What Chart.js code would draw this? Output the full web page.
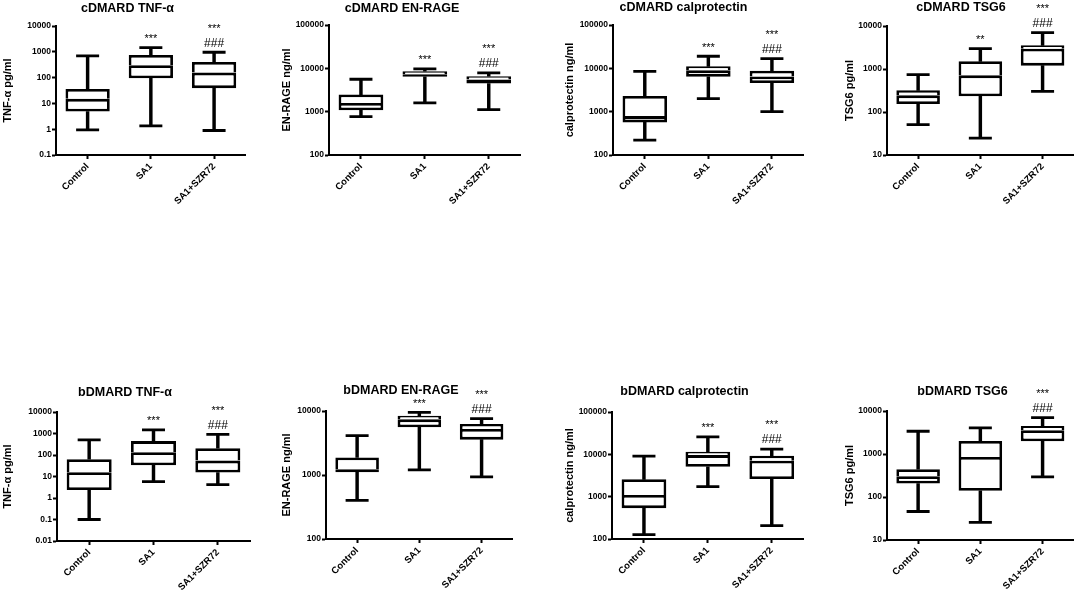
<!DOCTYPE html>
<html>
<head>
<meta charset="utf-8">
<script src="https://cdn.jsdelivr.net/npm/chart.js@4.4.1/dist/chart.umd.min.js"></script>
<style>
html, body { margin: 0; padding: 0; background: #fff; width: 1084px; height: 592px; overflow: hidden; }
canvas { position: absolute; }
</style>
</head>
<body>
<script>
const groups = ["Control", "SA1", "SA1+SZR72"]

// cDMARD TNF-alpha (pg/ml)
const cTnfTicks = [0.1, 1, 10, 100, 1000, 10000]
const cTnfMin = [0.94, 1.35, 0.89]
const cTnfQ1 = [4.8, 94, 39]
const cTnfMed = [15, 300, 156]
const cTnfQ3 = [36, 750, 400]
const cTnfMax = [690, 1450, 960]
const cTnfStars = ["", "***", "***"]
const cTnfHash = ["", "", "###"]

// cDMARD EN-RAGE (ng/ml)
const cRageTicks = [100, 1000, 10000, 100000]
const cRageMin = [765, 1590, 1110]
const cRageQ1 = [1075, 6360, 4450]
const cRageMed = [1590, 7330, 5510]
const cRageQ3 = [2480, 8600, 6590]
const cRageMax = [5600, 9700, 7870]
const cRageStars = ["", "***", "***"]
const cRageHash = ["", "", "###"]

// cDMARD calprotectin (ng/ml)
const cCalTicks = [100, 1000, 10000, 100000]
const cCalMin = [220, 2000, 1000]
const cCalQ1 = [565, 6400, 4560]
const cCalMed = [790, 8980, 6520]
const cCalQ3 = [2310, 11100, 8830]
const cCalMax = [8500, 19000, 16800]
const cCalStars = ["", "***", "***"]
const cCalHash = ["", "", "###"]

// cDMARD TSG6 (pg/ml)
const cTsgTicks = [10, 100, 1000, 10000]
const cTsgMin = [51, 24.8, 303]
const cTsgQ1 = [153, 231, 1195]
const cTsgMed = [244, 712, 2970]
const cTsgQ3 = [319, 1510, 3550]
const cTsgMax = [738, 2970, 7000]
const cTsgStars = ["", "**", "***"]
const cTsgHash = ["", "", "###"]

// bDMARD TNF-alpha (pg/ml)
const bTnfTicks = [0.01, 0.1, 1, 10, 100, 1000, 10000]
const bTnfMin = [0.1, 5.75, 4.17]
const bTnfQ1 = [2.35, 33, 15.2]
const bTnfMed = [15.7, 135, 55]
const bTnfQ3 = [64, 442, 208]
const bTnfMax = [510, 1490, 904]
const bTnfStars = ["", "***", "***"]
const bTnfHash = ["", "", "###"]

// bDMARD EN-RAGE (ng/ml)
const bRageTicks = [100, 1000, 10000]
const bRageMin = [401, 1204, 936]
const bRageQ1 = [1107, 5560, 3570]
const bRageMed = [1233, 7410, 5240]
const bRageQ3 = [1875, 8460, 6270]
const bRageMax = [4130, 9530, 7600]
const bRageStars = ["", "***", "***"]
const bRageHash = ["", "", "###"]

// bDMARD calprotectin (ng/ml)
const bCalTicks = [100, 1000, 10000, 100000]
const bCalMin = [127, 1730, 206]
const bCalQ1 = [535, 5100, 2620]
const bCalMed = [1100, 9600, 7060]
const bCalQ3 = [2570, 11500, 9250]
const bCalMax = [9080, 25900, 13300]
const bCalStars = ["", "***", "***"]
const bCalHash = ["", "", "###"]

// bDMARD TSG6 (pg/ml)
const bTsgTicks = [10, 100, 1000, 10000]
const bTsgMin = [46, 25.6, 294]
const bTsgQ1 = [206, 139, 1980]
const bTsgMed = [305, 857, 3560]
const bTsgQ3 = [443, 2010, 4490]
const bTsgMax = [3380, 4030, 7000]
const bTsgStars = ["", "", "***"]
const bTsgHash = ["", "", "###"]

const FONT = "'Liberation Sans', Arial, sans-serif"
const TITLE_SIZE = 12.5
const LINE_W = 2.8

// draws the *** / ### marks above the upper whisker of each group
const sigPlugin = {
    id: "sig",
    afterDatasetsDraw(chart, args, opts){
        const {ctx} = chart
        const x = chart.scales.x
        const y = chart.scales.y
        ctx.save()
        ctx.fillStyle = "#000"
        ctx.textAlign = "center"
        ctx.textBaseline = "alphabetic"
        for(let i = 0; i < opts.maxs.length; i++){
            const px = x.getPixelForValue(i)
            let top = y.getPixelForValue(opts.maxs[i])
            let gap = 12
            if(opts.hashes[i]){
                top -= 10
                ctx.font = `12px ${FONT}`
                ctx.fillText(opts.hashes[i], px, top + 12 * 0.36)
                gap = 17
            }
            if(opts.stars[i]){
                ctx.font = `11px ${FONT}`
                ctx.fillText(opts.stars[i], px, top - gap + 11 * 0.58)
            }
        }
        ctx.restore()
    }
}

function makePanel(box, title, yLabel, ticks, mins, q1, med, q3, maxs, stars, hashes){
    const canvas = document.createElement("canvas")
    canvas.width = box.w
    canvas.height = box.h
    canvas.style.left = box.x + "px"
    canvas.style.top = box.y + "px"
    document.body.appendChild(canvas)

    const titleLine = TITLE_SIZE * 1.2
    const padTop = box.titleY - box.y - titleLine / 2
    const padBottom = box.T - box.y - padTop - titleLine

    const capStyle = {
        type: "line",
        showLine: false,
        pointStyle: "line",
        pointRadius: 11.5,
        pointBorderWidth: LINE_W,
        pointBorderColor: "#000",
        pointBackgroundColor: "#000"
    }
    const stemStyle = {
        type: "bar",
        grouped: false,
        barThickness: LINE_W,
        backgroundColor: "#000",
        borderWidth: 0
    }
    const boxStyle = {
        type: "bar",
        grouped: false,
        categoryPercentage: 1,
        barPercentage: 0.7,
        backgroundColor: "#fff",
        borderColor: "#000",
        borderWidth: LINE_W
    }

    new Chart(canvas, {
        type: "bar",
        data: {
            labels: groups,
            datasets: [
                {...boxStyle, data: groups.map((g, i) => [q1[i], med[i]]), borderSkipped: false},
                {...boxStyle, data: groups.map((g, i) => [med[i], q3[i]]), borderSkipped: "bottom"},
                {...stemStyle, data: groups.map((g, i) => [mins[i], q1[i]])},
                {...stemStyle, data: groups.map((g, i) => [q3[i], maxs[i]])},
                {...capStyle, data: maxs},
                {...capStyle, data: mins}
            ]
        },
        options: {
            responsive: false,
            animation: false,
            events: [],
            layout: {padding: {left: 0, top: 0, right: box.x + box.w - box.R, bottom: 0}},
            plugins: {
                legend: {display: false},
                tooltip: {enabled: false},
                title: {
                    display: true,
                    text: title,
                    color: "#000",
                    font: {family: FONT, size: TITLE_SIZE, weight: "bold"},
                    padding: {top: padTop, bottom: padBottom}
                },
                sig: {maxs: maxs, stars: stars, hashes: hashes}
            },
            scales: {
                x: {
                    type: "category",
                    offset: true,
                    grid: {display: true, drawOnChartArea: false, offset: false, tickLength: 4, tickWidth: 2, tickColor: "#000"},
                    border: {display: true, color: "#000", width: 2},
                    ticks: {color: "#000", font: {family: FONT, size: 9.5, weight: "bold"}, minRotation: 45, maxRotation: 45, autoSkip: false, padding: 2},
                    afterFit(s){ s.height = box.y + box.h - box.B }
                },
                y: {
                    type: "logarithmic",
                    min: ticks[0],
                    max: ticks[ticks.length - 1],
                    afterBuildTicks(s){ s.ticks = ticks.map(v => ({value: v})) },
                    grid: {display: true, drawOnChartArea: false, tickLength: 4, tickWidth: 2, tickColor: "#000"},
                    border: {display: true, color: "#000", width: 2},
                    ticks: {color: "#000", font: {family: FONT, size: 8.5, weight: "bold"}, padding: 1, autoSkip: false, callback: v => String(v)},
                    title: {display: true, text: yLabel, color: "#000", font: {family: FONT, size: 11, weight: "bold"}, padding: {top: 1.5, bottom: 0}},
                    afterFit(s){ s.width = box.L - box.x }
                }
            }
        },
        plugins: [sigPlugin]
    })
}

// canvas rectangle (x, y, w, h), plot area edges (L, T, R, B) and title centre line, in page pixels
const boxes = [
    {x: 0, y: 0, w: 260, h: 215, L: 56, T: 26, R: 255, B: 155, titleY: 8.5},
    {x: 279, y: 0, w: 256, h: 215, L: 329, T: 25, R: 525, B: 155, titleY: 8.3},
    {x: 562, y: 0, w: 256, h: 215, L: 613, T: 25, R: 805, B: 155, titleY: 7.5},
    {x: 842, y: 0, w: 246, h: 215, L: 887, T: 26, R: 1080, B: 155, titleY: 7.5},
    {x: 0, y: 380, w: 266, h: 212, L: 57, T: 412, R: 250, B: 541, titleY: 392.5},
    {x: 279, y: 380, w: 248, h: 212, L: 326, T: 411, R: 523, B: 539, titleY: 391},
    {x: 562, y: 380, w: 256, h: 212, L: 612, T: 412, R: 807, B: 539, titleY: 392},
    {x: 842, y: 380, w: 246, h: 212, L: 887, T: 411, R: 1083, B: 540, titleY: 392}
]

makePanel(boxes[0], "cDMARD TNF-\u03b1", "TNF-\u03b1 pg/ml", cTnfTicks, cTnfMin, cTnfQ1, cTnfMed, cTnfQ3, cTnfMax, cTnfStars, cTnfHash)
makePanel(boxes[1], "cDMARD EN-RAGE", "EN-RAGE ng/ml", cRageTicks, cRageMin, cRageQ1, cRageMed, cRageQ3, cRageMax, cRageStars, cRageHash)
makePanel(boxes[2], "cDMARD calprotectin", "calprotectin ng/ml", cCalTicks, cCalMin, cCalQ1, cCalMed, cCalQ3, cCalMax, cCalStars, cCalHash)
makePanel(boxes[3], "cDMARD TSG6", "TSG6 pg/ml", cTsgTicks, cTsgMin, cTsgQ1, cTsgMed, cTsgQ3, cTsgMax, cTsgStars, cTsgHash)
makePanel(boxes[4], "bDMARD TNF-\u03b1", "TNF-\u03b1 pg/ml", bTnfTicks, bTnfMin, bTnfQ1, bTnfMed, bTnfQ3, bTnfMax, bTnfStars, bTnfHash)
makePanel(boxes[5], "bDMARD EN-RAGE", "EN-RAGE ng/ml", bRageTicks, bRageMin, bRageQ1, bRageMed, bRageQ3, bRageMax, bRageStars, bRageHash)
makePanel(boxes[6], "bDMARD calprotectin", "calprotectin ng/ml", bCalTicks, bCalMin, bCalQ1, bCalMed, bCalQ3, bCalMax, bCalStars, bCalHash)
makePanel(boxes[7], "bDMARD TSG6", "TSG6 pg/ml", bTsgTicks, bTsgMin, bTsgQ1, bTsgMed, bTsgQ3, bTsgMax, bTsgStars, bTsgHash)
</script>
</body>
</html>
